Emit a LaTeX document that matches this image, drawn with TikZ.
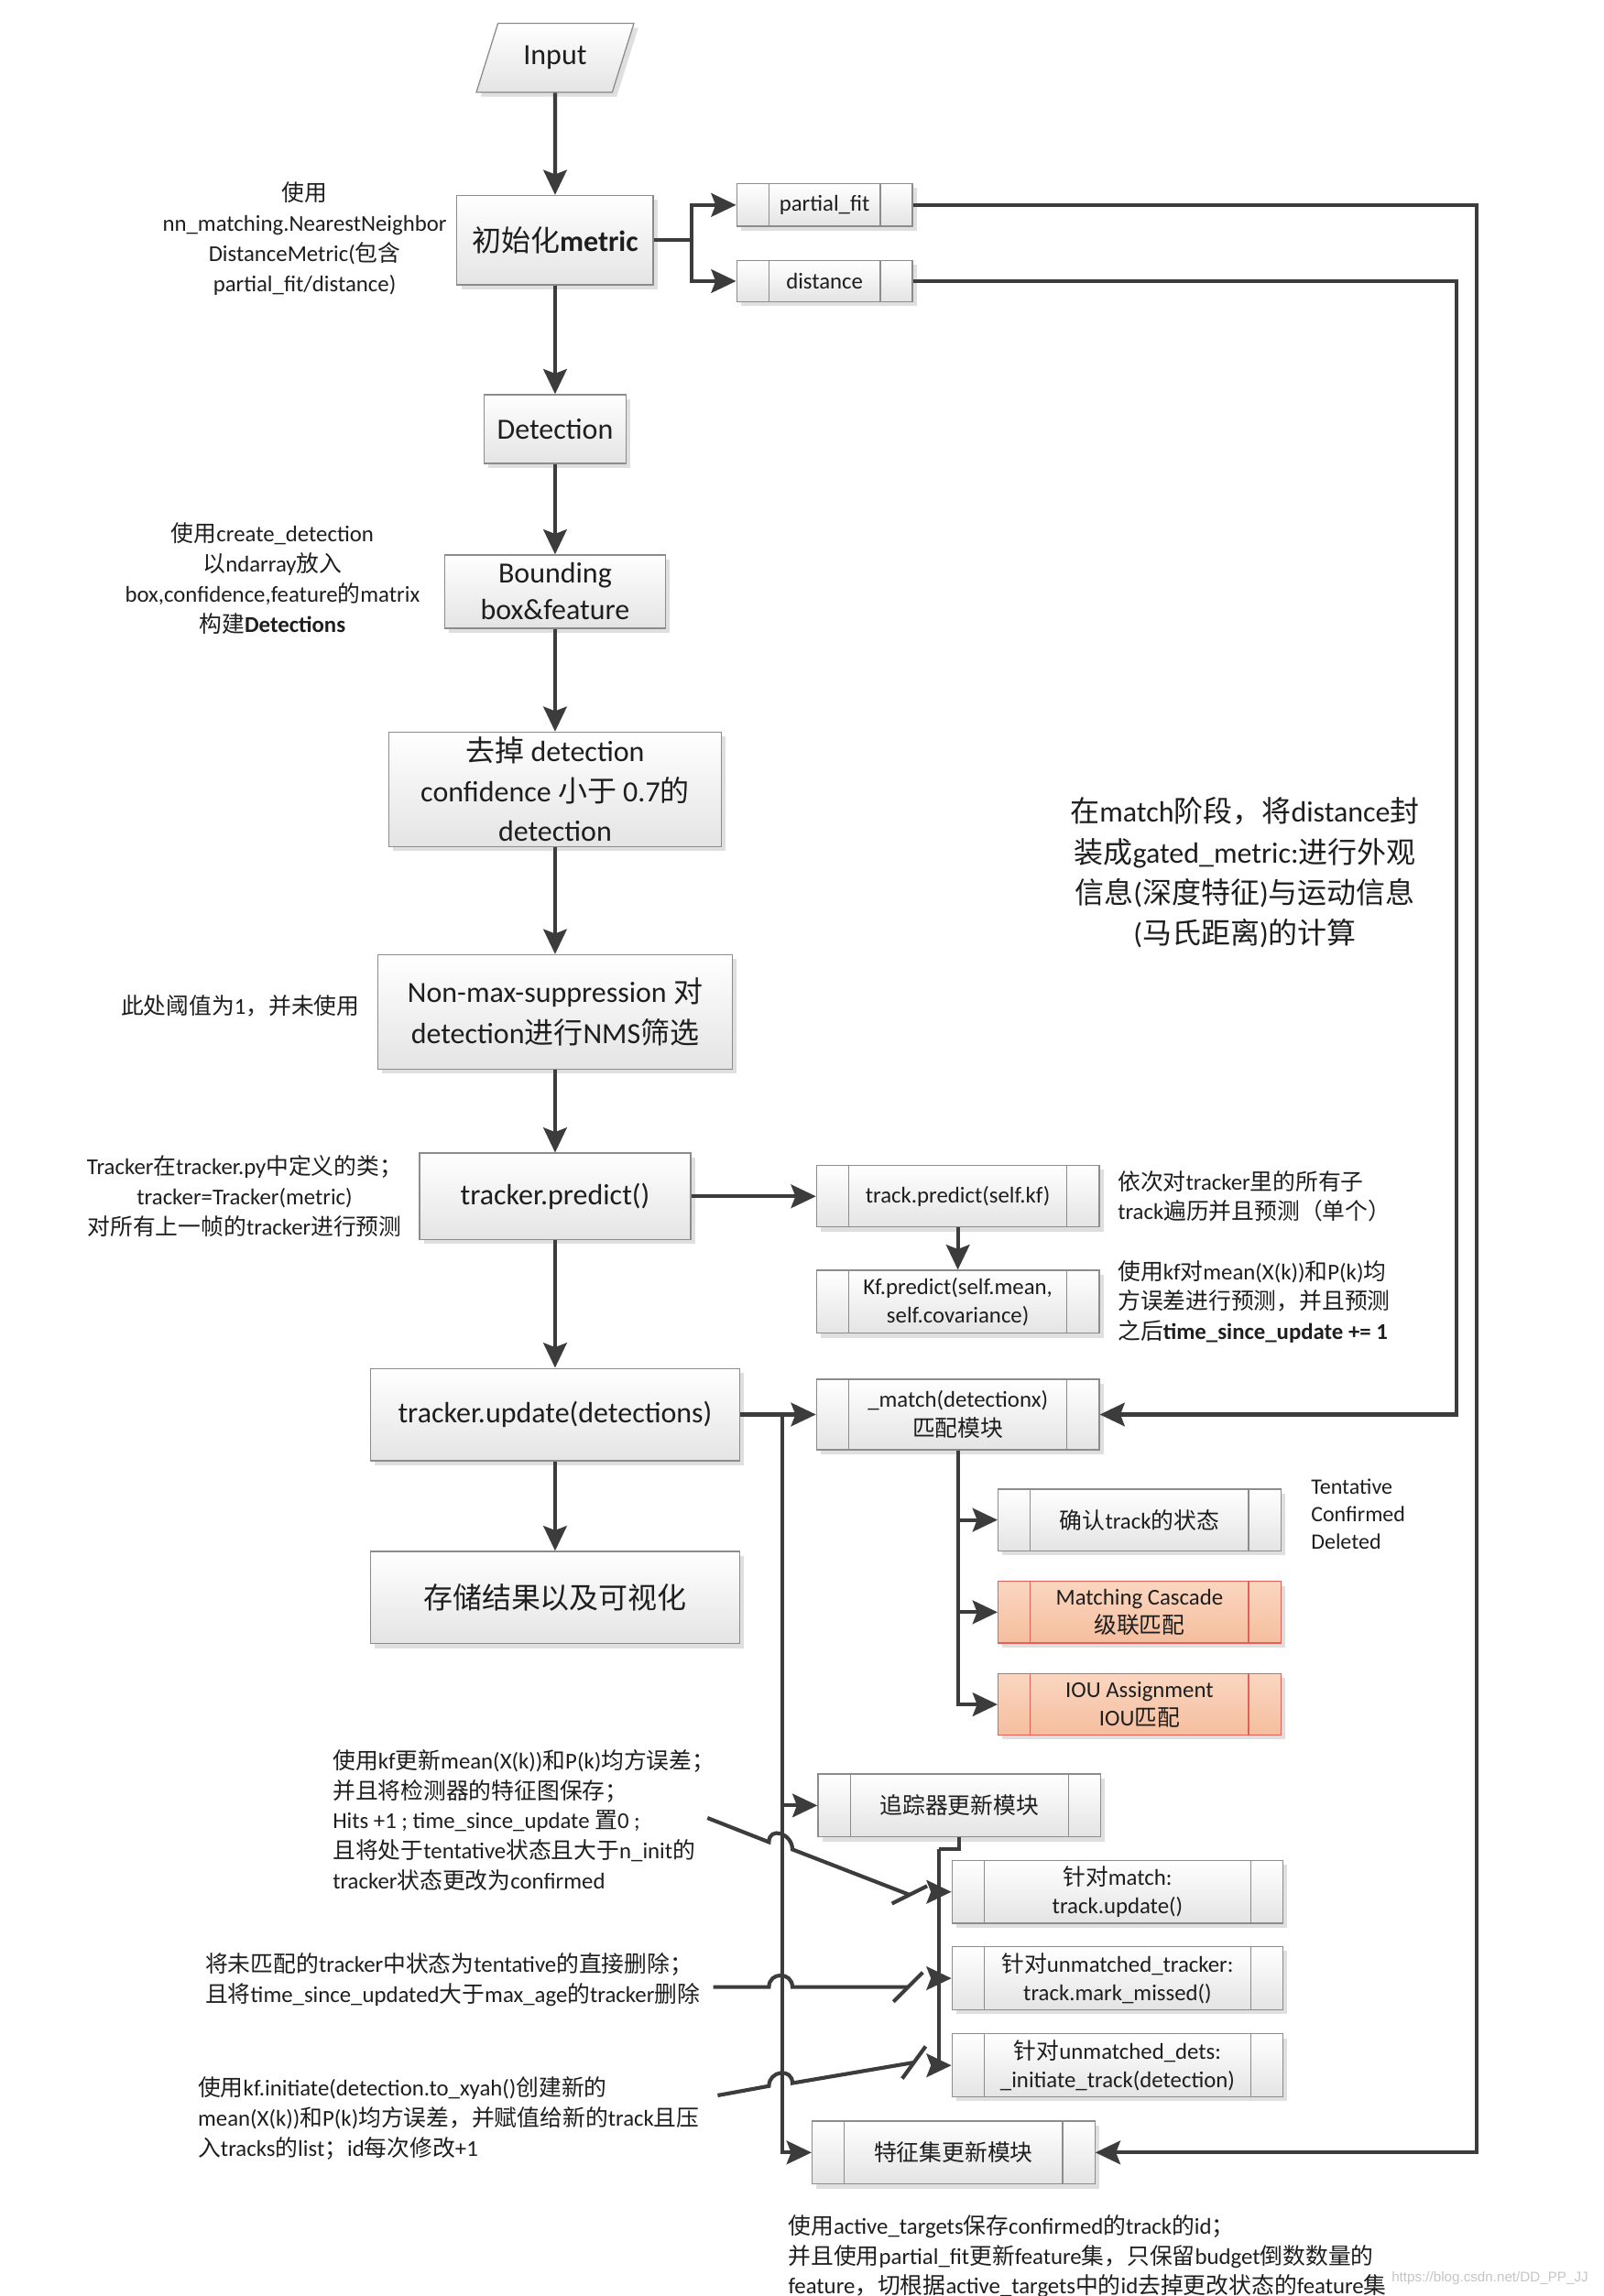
\documentclass[tikz,border=0pt]{standalone}
\usepackage{fontspec}
\setmainfont{Carlito}
\newfontfamily\cjkfont{Noto Sans CJK SC}
\newfontfamily\wmfont{Liberation Sans}
\usetikzlibrary{arrows.meta, shapes.geometric, shadows}

% Chinese characters are set in the CJK font, the rest in Carlito
\XeTeXinterchartokenstate=1
\chardef\cjkcls=10
\newcount\cjkcnt
\def\setcjkrange#1#2{\cjkcnt=#1\relax
  \loop\XeTeXcharclass\cjkcnt=\cjkcls\relax
    \advance\cjkcnt by 1\relax
  \ifnum\cjkcnt<#2\relax\repeat}
\setcjkrange{"3000}{"3040}
\setcjkrange{"4E00}{"A000}
\setcjkrange{"FF00}{"FFF0}
\XeTeXinterchartoks 0 \cjkcls = {\cjkfont}
\XeTeXinterchartoks 4095 \cjkcls = {\cjkfont}
\XeTeXinterchartoks \cjkcls 0 = {\rmfamily}
\XeTeXinterchartoks \cjkcls 4095 = {\rmfamily}

\definecolor{linegray}{HTML}{3C3C3C}
\definecolor{boxline}{HTML}{8C8C8C}
\definecolor{boxbot}{HTML}{E4E4E4}
\definecolor{textgray}{HTML}{1E1E1E}
\definecolor{hottop}{HTML}{FAD6C0}
\definecolor{hotbot}{HTML}{F5BE9E}
\definecolor{hotline}{HTML}{E0605A}

\begin{document}
\begin{tikzpicture}[x=1pt, y=-1pt,
    box/.style={rectangle, draw=boxline, line width=0.8pt, top color=white, bottom color=boxbot,
                drop shadow={shadow xshift=3pt, shadow yshift=-3pt, opacity=0.25},
                text=textgray, align=center, inner sep=2pt,
                font=\fontsize{20}{25}\selectfont},
    sub/.style={box, font=\fontsize{15.5}{19.5}\selectfont,
                path picture={
                  \draw[#1, line width=0.8pt] ([xshift=22pt]path picture bounding box.north west)
                      -- ([xshift=22pt]path picture bounding box.south west);
                  \draw[#1, line width=0.8pt] ([xshift=-22pt]path picture bounding box.north east)
                      -- ([xshift=-22pt]path picture bounding box.south east);}},
    sub/.default=boxline,
    hot/.style={sub=hotline, draw=hotline, top color=hottop, bottom color=hotbot},
    note/.style={text=textgray, inner sep=0pt, font=\fontsize{15.5}{20.5}\selectfont},
    arrow/.style={-{Stealth[length=17pt, width=16pt, inset=3pt]}, line width=2.6pt, draw=linegray},
    link/.style={line width=2.6pt, draw=linegray}
]

    \fill[white] (0,0) rectangle (1095,1568);
    \useasboundingbox (0,0) rectangle (1095,1568);

    % === Main column ===
    \node[box, trapezium, trapezium left angle=66, trapezium right angle=114,
          trapezium stretches=true, minimum width=108, minimum height=47] (input) at (379,39.5) {Input};
    \node[box, minimum width=134, minimum height=61] (metric) at (379,164) {初始化\textbf{metric}};
    \node[box, minimum width=97, minimum height=47] (detect) at (379,293) {Detection};
    \node[box, minimum width=151, minimum height=50] (bbox) at (379,404) {Bounding\\box\&feature};
    \node[box, minimum width=227, minimum height=78, font=\fontsize{20}{27}\selectfont] (filt) at (379,539)
        {去掉 detection\\confidence 小于 0.7的\\detection};
    \node[box, minimum width=242, minimum height=78, font=\fontsize{20}{28}\selectfont] (nms) at (379,691)
        {Non-max-suppression 对\\detection进行NMS筛选};
    \node[box, minimum width=185, minimum height=59] (predict) at (379,817) {tracker.predict()};
    \node[box, minimum width=252, minimum height=63] (update) at (379,966) {tracker.update(detections)};
    \node[box, minimum width=252, minimum height=63] (store) at (379,1091) {存储结果以及可视化};

    % === Metric parts ===
    \node[sub, minimum width=120, minimum height=29] (pfit) at (563,140) {partial\_fit};
    \node[sub, minimum width=120, minimum height=28] (dist) at (563,192) {distance};

    % === Predict / update modules ===
    \node[sub, minimum width=193, minimum height=42] (tpred) at (654,817) {track.predict(self.kf)};
    \node[sub, minimum width=193, minimum height=43] (kfpred) at (654,889) {Kf.predict(self.mean,\\self.covariance)};
    \node[sub, minimum width=193, minimum height=48] (match) at (654,966) {\_match(detectionx)\\匹配模块};
    \node[sub, minimum width=193, minimum height=42] (state) at (778,1038) {确认track的状态};
    \node[hot, minimum width=193, minimum height=42] (cascade) at (778,1101) {Matching Cascade\\级联匹配};
    \node[hot, minimum width=193, minimum height=42] (iou) at (778,1164) {IOU Assignment\\IOU匹配};
    \node[sub, minimum width=193, minimum height=43] (trkupd) at (655,1233) {追踪器更新模块};
    \node[sub, minimum width=226, minimum height=43] (tupd) at (763,1292) {针对match:\\track.update()};
    \node[sub, minimum width=226, minimum height=43] (tmiss) at (763,1351) {针对unmatched\_tracker:\\track.mark\_missed()};
    \node[sub, minimum width=226, minimum height=43] (tinit) at (763,1410.5) {针对unmatched\_dets:\\\_initiate\_track(detection)};
    \node[sub, minimum width=193, minimum height=43] (featupd) at (651,1470) {特征集更新模块};

    % === Notes ===
    \node[note, align=center] (nmetric) at (208,163)
        {使用\\nn\_matching.NearestNeighbor\\DistanceMetric(包含\\partial\_fit/distance)};
    \node[note, align=center] (ndet) at (186,395)
        {使用create\_detection\\以ndarray放入\\box,confidence,feature的matrix\\构建\textbf{Detections}};
    \node[note] (nnms) at (164,687) {此处阈值为1，并未使用};
    \node[note, align=center] (npred) at (167,817)
        {Tracker在tracker.py中定义的类；\\tracker=Tracker(metric)\\对所有上一帧的tracker进行预测};
    \node[note, align=left, anchor=west] (ntpred) at (763,817)
        {依次对tracker里的所有子\\track遍历并且预测（单个）};
    \node[note, align=left, anchor=west] (nkf) at (763,889)
        {使用kf对mean(X(k))和P(k)均\\方误差进行预测，并且预测\\之后\textbf{time\_since\_update += 1}};
    \node[note, align=center, font=\fontsize{20}{27.7}\selectfont] (ngate) at (850,596)
        {在match阶段，将distance封\\装成gated\_metric:进行外观\\信息(深度特征)与运动信息\\(马氏距离)的计算};
    \node[note, align=left, anchor=west, font=\fontsize{15}{18.5}\selectfont] (nstate) at (895,1034)
        {Tentative\\Confirmed\\Deleted};
    \node[note, align=left, anchor=west] (nupd) at (227,1243)
        {使用kf更新mean(X(k))和P(k)均方误差；\\并且将检测器的特征图保存；\\Hits +1 ; time\_since\_update 置0 ;\\且将处于tentative状态且大于n\_init的\\tracker状态更改为confirmed};
    \node[note, align=left, anchor=west] (nmiss) at (140,1352)
        {将未匹配的tracker中状态为tentative的直接删除；\\且将time\_since\_updated大于max\_age的tracker删除};
    \node[note, align=left, anchor=west] (ninit) at (135,1446.5)
        {使用kf.initiate(detection.to\_xyah()创建新的\\mean(X(k))和P(k)均方误差，并赋值给新的track且压\\入tracks的list；id每次修改+1};
    \node[note, align=left, anchor=west] (nfeat) at (538,1541)
        {使用active\_targets保存confirmed的track的id；\\并且使用partial\_fit更新feature集，只保留budget倒数数量的\\feature，切根据active\_targets中的id去掉更改状态的feature集};
    \node[anchor=west, inner sep=0pt, text=gray!45, font=\wmfont\fontsize{9.5}{11}\selectfont] (wmark) at (950,1556)
        {https://blog.csdn.net/DD\_PP\_JJ};

    % === Main flow ===
    \draw[arrow] (input) -- (metric);
    \draw[arrow] (metric) -- (detect);
    \draw[arrow] (detect) -- (bbox);
    \draw[arrow] (bbox) -- (filt);
    \draw[arrow] (filt) -- (nms);
    \draw[arrow] (nms) -- (predict);
    \draw[arrow] (predict) -- (update);
    \draw[arrow] (update) -- (store);

    % metric split and long returns
    \draw[arrow] (metric.east) -- ++(26,0) |- (pfit.west);
    \draw[arrow] (metric.east) -- ++(26,0) |- (dist.west);
    \draw[arrow] (pfit.east) -- ++(385,0) |- (featupd.east);
    \draw[arrow] (dist.east) -- ++(371,0) |- (match.east);

    % predict
    \draw[arrow] (predict) -- (tpred);
    \draw[arrow] (tpred) -- (kfpred);

    % update
    \draw[arrow] (update) -- (match);
    \coordinate (ujoin) at (534,966);
    \draw[arrow] (ujoin) |- (trkupd.west);
    \draw[arrow] (ujoin) |- (featupd.west);
    \draw[arrow] (match.south) |- (state.west);
    \draw[arrow] (match.south) |- (cascade.west);
    \draw[arrow] (match.south) |- (iou.west);
    \coordinate (tjog) at (641,1263);
    \draw[link] (trkupd.south) |- (tjog);
    \draw[arrow] (tjog) |- (tupd.west);
    \draw[arrow] (tjog) |- (tmiss.west);
    \draw[arrow] (tjog) |- (tinit.west);

    % note leaders, hopping over the trunk
    \coordinate (supd) at (483,1241.5);
    \coordinate (eupd) at (621,1294);
    \draw[link] (supd) -- (525,1258) .. controls (525,1247) and (541,1252) .. (541,1263) -- (eupd);
    \draw[link] ([shift={(-12,6)}]eupd) -- ([shift={(12,-6)}]eupd);
    \coordinate (smiss) at (487,1357);
    \coordinate (emiss) at (620,1357);
    \draw[link] (smiss) -- (525,1357) .. controls (525,1346.4) and (541,1346.4) .. (541,1357) -- (emiss);
    \draw[link] ([shift={(-10,10)}]emiss) -- ([shift={(10,-10)}]emiss);
    \coordinate (sinit) at (490,1431);
    \coordinate (einit) at (624,1408.5);
    \draw[link] (sinit) -- (525,1424.6) .. controls (525,1414) and (541,1412) .. (541,1422.6) -- (einit);
    \draw[link] ([shift={(-8,11)}]einit) -- ([shift={(8,-11)}]einit);

\end{tikzpicture}
\end{document}
